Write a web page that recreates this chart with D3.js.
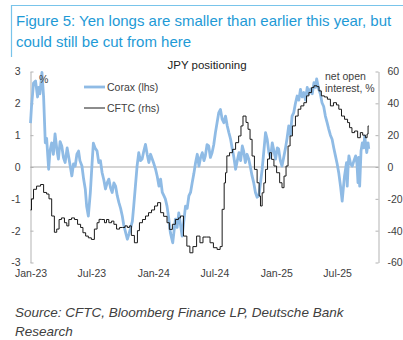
<!DOCTYPE html>
<html>
<head>
<meta charset="utf-8">
<script src="https://cdn.jsdelivr.net/npm/d3@7"></script>
<style>
  body { margin: 0; background: #fff; }
  svg { display: block; font-family: "Liberation Sans", Arial, sans-serif; }
</style>
</head>
<body>
<script>
// days counted from 1 Jan 2023
const seriesStart = new Date(2023, 0, 1);

// Corax positioning index, lhs  [day, value]
const corax = [
  [0,1.38],[3,1.9],[9,2.64],[15,2.7],[21,2.2],[24,2.5],[28,2.3],[34,2.97],[39,2.2],[44,0.76],
  [48,0.9],[54,-0.07],[58,0.5],[63,0.76],[68,0.4],[73,1.04],[79,0.5],[83,0.25],[88,0.8],[93,0.66],
  [98,0.3],[103,0.14],[109,0.6],[113,0.35],[117,0.1],[123,-0.28],[128,0.1],[133,0.03],[138,0.4],[143,0.5],
  [147,0.2],[153,0.03],[158,-0.38],[163,-0.7],[167,-1.23],[172,-1.54],[178,-0.8],[183,0.1],[187,0.75],[192,0.6],
  [198,0.5],[203,0.14],[208,0.2],[213,-0.18],[218,-0.4],[223,-0.69],[228,-0.5],[233,-0.38],[238,-0.65],[243,-0.8],
  [248,-0.5],[253,-0.6],[258,-0.9],[263,-1.12],[268,-1.3],[273,-1.54],[277,-1.8],[283,-2.06],[288,-2.27],[293,-2.1],
  [297,-1.95],[303,-1.7],[307,-1.23],[312,-0.6],[317,0.03],[322,0.45],[327,0.2],[332,0.25],[337,0.5],[342,0.71],
  [347,0.4],[352,0.14],[357,0.4],[362,0.25],[367,0.1],[372,-0.07],[377,-0.3],[382,-0.6],[387,-0.38],[392,-0.8],
  [397,-0.91],[401,-1.0],[406,-1.23],[411,-1.6],[416,-2.06],[423,-2.38],[426,-2.1],[431,-1.64],[436,-1.9],[441,-1.44],
  [446,-1.8],[451,-2.17],[456,-1.7],[461,-1.23],[466,-1.3],[471,-0.91],[476,-0.8],[481,-0.49],[486,-0.2],[491,0.14],
  [496,0.4],[501,0.03],[506,0.3],[511,0.45],[516,0.2],[520,0.35],[525,0.7],[530,0.66],[535,0.3],[540,0.45],
  [545,0.7],[550,1.08],[555,1.4],[560,1.71],[565,1.81],[570,1.5],[575,1.39],[580,1.6],[585,1.3],[590,1.08],
  [595,0.88],[600,0.57],[605,0.3],[610,-0.07],[615,0.2],[620,0.45],[625,0.2],[630,0.66],[634,0.5],[639,0.14],
  [644,0.4],[649,0.25],[654,0.0],[659,-0.28],[664,-0.5],[669,-0.8],[674,-0.95],[679,-0.91],[684,-0.5],[689,-0.07],
  [694,0.5],[699,1.08],[704,0.87],[709,0.45],[714,0.3],[719,0.76],[724,0.5],[729,0.25],[734,0.6],[738,0.57],
  [743,0.2],[748,0.03],[753,0.3],[758,0.57],[763,0.9],[768,1.29],[773,1.0],[778,1.6],[783,1.71],[788,2.0],
  [793,2.23],[798,2.1],[803,2.44],[808,2.2],[813,2.34],[818,2.1],[823,2.5],[828,2.3],[833,2.45],[838,2.3],
  [843,2.65],[848,2.5],[851,2.77],[857,2.45],[862,2.3],[867,2.02],[872,1.9],[877,1.6],[882,1.4],[887,1.19],
  [892,1.0],[897,0.87],[902,0.6],[907,0.35],[912,0.1],[917,-0.2],[922,-0.6],[927,-1.07],[931,-0.6],[934,-0.28],
  [940,0.14],[942,-0.6],[945,0.1],[947,0.35],[952,0.1],[957,0.03],[962,0.2],[967,0.35],[971,0.1],[974,-0.49],
  [976,0.3],[979,-0.6],[983,0.5],[987,0.76],[991,0.6],[994,0.97],[1000,0.45],[1004,0.76],[1006,0.57]
];

// CFTC net open interest %, rhs, weekly  [day, value]
const cftc = [
  [0,-27],[3,-20],[9,-14],[18,-12],[30,-11],[39,-16],[48,-17],[55,-20],[63,-30.8],[71,-41],
  [78,-39],[85,-33],[92,-32],[101,-35],[108,-37],[114,-33],[122,-32],[131,-33],[140,-36],[149,-38],
  [156,-41.3],[164,-43.4],[172,-44.5],[181,-45.5],[190,-39],[198,-35],[204,-32.9],[211,-33],[220,-35],[226,-33],
  [233,-35],[241,-34],[248,-36],[256,-39],[265,-38],[274,-38],[281,-37],[288,-38],[294,-37],[300,-43],
  [309,-47.6],[318,-40],[324,-35],[333,-33],[342,-30.8],[351,-28.7],[360,-27],[369,-24.5],[378,-22.4],[387,-28.7],
  [396,-31],[406,-35],[413,-39.2],[422,-36],[431,-33],[440,-32],[446,-30.8],[455,-43.4],[465,-49.7],[474,-53.9],
  [483,-50],[494,-43.4],[504,-47.6],[513,-44],[523,-44],[534,-47.6],[544,-50.7],[555,-51.8],[564,-50],[570,-26.6],
  [576,-10],[580,-3.6],[584,7],[592,9],[601,11.1],[610,15.3],[619,19.5],[626,25.8],[632,32],[641,28],
  [647,23.7],[653,17.4],[659,6.9],[666,-1.5],[674,-9.9],[680,-18.2],[684,-24.5],[689,-16.2],[694,-10],[699,-1.5],
  [705,5],[711,9],[717,4.8],[724,0.6],[732,-3.6],[741,-9.9],[748,-13],[754,-5.7],[760,0.6],[766,13.2],
  [772,19.5],[779,25.8],[788,32],[796,36.3],[804,38.4],[813,40.4],[821,44.7],[828,46.8],[836,49.9],[843,51],
  [852,50.5],[858,47.8],[865,44.7],[874,44],[883,42.6],[892,38.4],[901,40.4],[910,39],[917,36.3],[925,32],
  [934,30],[943,27.9],[949,24.7],[956,21.6],[964,22.6],[973,18.4],[981,21.6],[988,20],[996,18.4],[1001,20.7],
  [1004,25.8],[1006,25.8]
];

const leftTicks = [-3, -2, -1, 0, 1, 2, 3];
const rightTicks = [-60, -40, -20, 0, 20, 40, 60];
const xTicks = ["2023-01-01", "2023-07-01", "2024-01-01", "2024-07-01", "2025-01-01", "2025-07-01"];
const legendItems = [
  { name: "Corax (lhs)", color: "#8fbbe5", width: 2.8 },
  { name: "CFTC (rhs)", color: "#1a1a1a", width: 1 }
];

const W = 403, H = 340;
const svg = d3.select("body").append("svg").attr("width", W).attr("height", H);

// frame around the heading
svg.append("path")
  .attr("d", "M11.5,57V5.5H403")
  .attr("fill", "none")
  .attr("stroke", "#79c4ea")
  .attr("stroke-width", 1.2);

const title = svg.append("text")
  .attr("fill", "#1e9ad6")
  .attr("font-size", "15px");
title.append("tspan").attr("x", 16).attr("y", 26)
  .text("Figure 5: Yen longs are smaller than earlier this year, but");
title.append("tspan").attr("x", 16).attr("y", 47)
  .text("could still be cut from here");

const x = d3.scaleTime()
  .domain([new Date(2023, 0, 1), new Date(2025, 10, 1)])
  .range([30.5, 378.5]);
const yL = d3.scaleLinear().domain([-3, 3]).range([262.5, 71.5]);
const yR = d3.scaleLinear().domain([-60, 60]).range([262.5, 71.5]);
const toDate = d => d3.timeDay.offset(seriesStart, d);

svg.append("text")
  .attr("x", 207).attr("y", 69)
  .attr("text-anchor", "middle")
  .attr("font-size", "11.5px")
  .attr("fill", "#222")
  .text("JPY positioning");

function styleAxis(g) {
  g.selectAll(".domain, .tick line").attr("stroke", "#b3b3b3");
  g.selectAll("text").attr("fill", "#404040").attr("font-size", "10.5px")
    .attr("font-family", "Liberation Sans, Arial, sans-serif");
}

svg.append("g")
  .attr("transform", "translate(30.5,0)")
  .call(d3.axisLeft(yL).tickValues(leftTicks).tickSizeInner(-3).tickSizeOuter(0)
    .tickPadding(10).tickFormat(d => String(d)))
  .call(styleAxis);

svg.append("g")
  .attr("transform", "translate(378.5,0)")
  .call(d3.axisRight(yR).tickValues(rightTicks).tickSizeInner(-3).tickSizeOuter(0)
    .tickPadding(9).tickFormat(d => String(d)))
  .call(styleAxis);

svg.append("g")
  .attr("transform", "translate(0,262.5)")
  .call(d3.axisBottom(x).tickValues(xTicks.map(d => d3.isoParse(d)))
    .tickSize(0).tickPadding(7.5).tickFormat(d3.timeFormat("%b-%y")))
  .call(g => g.select(".domain").remove())
  .call(styleAxis);

// zero line
svg.append("line")
  .attr("x1", x.range()[0]).attr("x2", x.range()[1])
  .attr("y1", yL(0)).attr("y2", yL(0))
  .attr("stroke", "#ababab")
  .attr("stroke-width", 1);

const coraxLine = d3.line()
  .x(d => x(toDate(d[0])))
  .y(d => yL(d[1]));

const cftcLine = d3.line()
  .curve(d3.curveStepAfter)
  .x(d => x(toDate(d[0])))
  .y(d => yR(d[1]));

svg.append("path")
  .datum(corax)
  .attr("d", coraxLine)
  .attr("fill", "none")
  .attr("stroke", legendItems[0].color)
  .attr("stroke-width", legendItems[0].width)
  .attr("stroke-linejoin", "round");

svg.append("path")
  .datum(cftc)
  .attr("d", cftcLine)
  .attr("fill", "none")
  .attr("stroke", legendItems[1].color)
  .attr("stroke-width", legendItems[1].width);

// legend
const legend = svg.append("g").attr("transform", "translate(84,87)");
const item = legend.selectAll("g").data(legendItems).join("g")
  .attr("transform", (d, i) => `translate(0,${i * 21})`);
item.append("line")
  .attr("x1", 0).attr("x2", 21)
  .attr("stroke", d => d.color)
  .attr("stroke-width", d => d.width);
item.append("text")
  .attr("x", 23).attr("y", 4)
  .attr("font-size", "10.5px")
  .attr("fill", "#404040")
  .text(d => d.name);

// axis units
svg.append("text")
  .attr("x", 39).attr("y", 83)
  .attr("font-size", "10.5px").attr("fill", "#404040")
  .text("%");
const unitR = svg.append("text")
  .attr("font-size", "10.5px").attr("fill", "#404040");
unitR.append("tspan").attr("x", 325).attr("y", 80).text("net open");
unitR.append("tspan").attr("x", 325).attr("y", 92).text("interest, %");

const source = svg.append("text")
  .attr("font-size", "13.5px")
  .attr("font-style", "italic")
  .attr("fill", "#404040");
source.append("tspan").attr("x", 15).attr("y", 317)
  .text("Source: CFTC, Bloomberg Finance LP, Deutsche Bank");
source.append("tspan").attr("x", 15).attr("y", 336)
  .text("Research");
</script>
</body>
</html>
